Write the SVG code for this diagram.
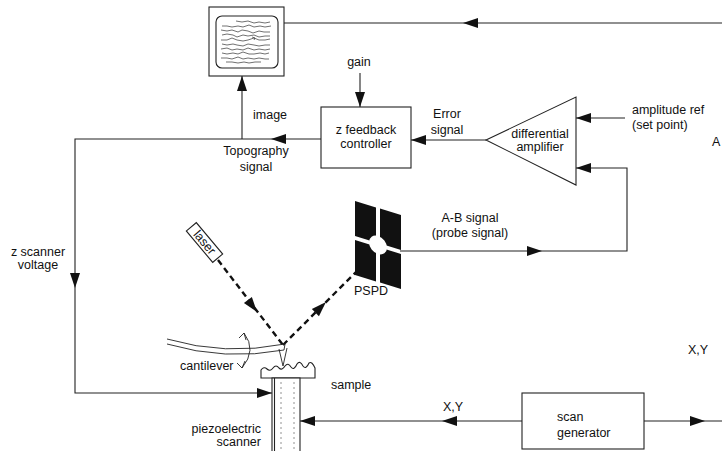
<svg xmlns="http://www.w3.org/2000/svg" width="722" height="451" viewBox="0 0 722 451">
  <style>
    text { font-family: "Liberation Sans", Arial, sans-serif; font-size: 12.5px; fill: #111; }
    .ln { fill: none; stroke: #222; stroke-width: 1.1; }
    .box { fill: #fff; stroke: #222; stroke-width: 1.1; }
    .beam { fill: none; stroke: #111; stroke-width: 2.4; stroke-dasharray: 6 4; }
    .thin { fill: none; stroke: #222; stroke-width: 0.9; }
    .wave { fill: none; stroke: #333; stroke-width: 0.7; }
    .dot { fill: none; stroke: #777; stroke-width: 0.8; stroke-dasharray: 2 3; }
    .ah { fill: #111; }
  </style>
  <defs>
    <!-- filled arrowhead, tip at origin, pointing along +x -->
    <path id="ah" class="ah" d="M0,0 L-15,-5 L-15,5 Z"/>
  </defs>

  <rect width="722" height="451" fill="#fff"/>

  <!-- connectors -->
  <g id="connectors">
    <path class="ln" d="M722,23 H284"/>
    <use href="#ah" transform="translate(463,23) rotate(180)"/>

    <path class="ln" d="M242,139 V76"/>
    <use href="#ah" transform="translate(242,76) rotate(-90)"/>

    <path class="ln" d="M321,139 H75 V393 H272"/>
    <use href="#ah" transform="translate(271,139) rotate(180)"/>
    <use href="#ah" transform="translate(75,288) rotate(90)"/>
    <use href="#ah" transform="translate(272,393)"/>

    <path class="ln" d="M360,73 V107"/>
    <use href="#ah" transform="translate(360,107) rotate(90)"/>

    <path class="ln" d="M486,140 H411"/>
    <use href="#ah" transform="translate(411,140) rotate(180)"/>

    <path class="ln" d="M625,118 H576"/>
    <use href="#ah" transform="translate(576,118) rotate(180)"/>

    <path class="ln" d="M400,251 H627 V168 H576"/>
    <use href="#ah" transform="translate(542,251)"/>
    <use href="#ah" transform="translate(576,168) rotate(180)"/>

    <path class="ln" d="M522,421 H300"/>
    <use href="#ah" transform="translate(300,421) rotate(180)"/>
    <use href="#ah" transform="translate(442,421) rotate(180)"/>

    <path class="ln" d="M644,421 H722"/>
    <use href="#ah" transform="translate(705,421)"/>

    <!-- laser beam and its reflection -->
    <path class="beam" d="M218,260 L283,345"/>
    <use href="#ah" transform="translate(257,312) rotate(52.6)"/>
    <path class="beam" d="M283,345 L358,270"/>
    <use href="#ah" transform="translate(326,302) rotate(-45)"/>
  </g>

  <!-- display monitor showing a topography image -->
  <g id="monitor">
    <rect class="box" x="209" y="7" width="75" height="69"/>
    <rect class="box" x="216" y="16" width="62" height="52" rx="6"/>
    <g class="wave">
      <path d="M236,21 l6,1 6,-1 6,2 5,-1 6,1 5,-1"/>
      <path d="M222,26 l5,0 5,1 6,-1 5,1 6,-2 5,2 6,-1 5,1 6,-1"/>
      <path d="M221,30 l6,1 5,-1 6,2 4,-2 6,1 5,2 6,-2 5,1 6,0"/>
      <path d="M222,35 l5,-1 6,1 4,2 6,-2 5,1 6,-1 5,2 6,-1 5,0"/>
      <path d="M221,40 l6,0 5,-2 5,2 6,1 5,-1 6,-2 5,2 6,0 5,-1"/>
      <path d="M222,44 l5,1 6,-1 4,1 6,1 5,-2 6,1 5,1 6,-1 5,0"/>
      <path d="M221,49 l6,-1 5,2 5,-1 6,1 5,-2 6,2 5,-1 6,1 5,-1"/>
      <path d="M222,53 l5,1 6,-1 5,1 5,-2 6,2 5,0 6,-1 5,1 4,-1"/>
      <path d="M221,58 l6,0 5,1 6,-2 5,2 5,-1 6,1 5,-1 6,1 4,0"/>
      <path d="M226,62 l6,0 6,1 6,-1 5,1 6,-1 6,0"/>
      <path d="M252,37 l3,1 -1,2"/>
    </g>
  </g>

  <!-- z feedback controller -->
  <g id="controller">
    <rect class="box" x="321" y="107" width="90" height="61"/>
    <text x="366" y="134" text-anchor="middle">z feedback</text>
    <text x="366" y="148" text-anchor="middle">controller</text>
  </g>

  <!-- differential amplifier -->
  <g id="amplifier">
    <polygon class="box" points="486,140 576,97 576,185"/>
    <text x="540" y="138" text-anchor="middle">differential</text>
    <text x="540" y="151" text-anchor="middle">amplifier</text>
  </g>

  <!-- position-sensitive photodetector -->
  <g id="pspd">
    <g transform="translate(378,245) skewY(17)">
      <rect x="-23" y="-37" width="21" height="35" fill="#111"/>
      <rect x="2" y="-37" width="21" height="35" fill="#111"/>
      <rect x="-23" y="2" width="21" height="35" fill="#111"/>
      <rect x="2" y="2" width="21" height="35" fill="#111"/>
      <circle cx="0" cy="0" r="9" fill="#fff"/>
    </g>
    <text x="371" y="295" text-anchor="middle">PSPD</text>
  </g>

  <!-- laser -->
  <g id="laser">
    <g transform="translate(204.5,242.5) rotate(50)">
      <rect class="box" x="-20.5" y="-6.5" width="41" height="13"/>
      <text x="0" y="4" text-anchor="middle" font-size="11">laser</text>
    </g>
  </g>

  <!-- cantilever with tip -->
  <g id="cantilever">
    <path class="thin" d="M167,339 Q225,356 285,344"/>
    <path class="thin" d="M167,344 Q225,361 284,350"/>
    <path class="thin" d="M285,344 L284,350"/>
    <path class="thin" d="M279,349 L283,366 L287,348"/>
    <path class="thin" d="M244,333 Q257,350 242,368"/>
    <path class="thin" d="M239,338 L244,333 L246,340"/>
    <path class="thin" d="M237,363 L242,368 L245,361"/>
    <text x="180" y="370">cantilever</text>
  </g>

  <!-- sample -->
  <g id="sample">
    <path class="box" d="M261,378 L261,370 Q264,366 267,369 Q270,372 273,368 Q276,364 279,368 Q282,371 285,366 Q288,362 291,367 Q294,371 297,364 Q300,360 303,366 Q306,370 309,363 Q312,361 315,368 L315,378 Z"/>
    <text x="331" y="389">sample</text>
  </g>

  <!-- piezoelectric scanner -->
  <g id="scanner">
    <rect class="box" x="272" y="378" width="28" height="80"/>
    <path class="ln" d="M274.5,378 V451"/>
    <path class="dot" d="M281,382 V451"/>
    <path class="dot" d="M294,382 V451"/>
    <text x="261" y="433" text-anchor="end">piezoelectric</text>
    <text x="261" y="446" text-anchor="end">scanner</text>
  </g>

  <!-- scan generator -->
  <g id="scan-generator">
    <rect class="box" x="522" y="393" width="122" height="56"/>
    <text x="557" y="421">scan</text>
    <text x="557" y="437">generator</text>
  </g>

  <!-- signal labels -->
  <g id="labels">
    <text x="253" y="119">image</text>
    <text x="256" y="155" text-anchor="middle">Topography</text>
    <text x="256" y="171" text-anchor="middle">signal</text>
    <text x="359" y="66" text-anchor="middle">gain</text>
    <text x="447" y="118" text-anchor="middle">Error</text>
    <text x="447" y="134" text-anchor="middle">signal</text>
    <text x="632" y="114">amplitude ref</text>
    <text x="632" y="129">(set point)</text>
    <text x="470" y="222" text-anchor="middle">A-B signal</text>
    <text x="470" y="237" text-anchor="middle">(probe signal)</text>
    <text x="38" y="256" text-anchor="middle">z scanner</text>
    <text x="38" y="269" text-anchor="middle">voltage</text>
    <text x="453" y="411" text-anchor="middle">X,Y</text>
    <text x="698" y="354" text-anchor="middle">X,Y</text>
    <text x="712" y="146">A</text>
  </g>
</svg>
